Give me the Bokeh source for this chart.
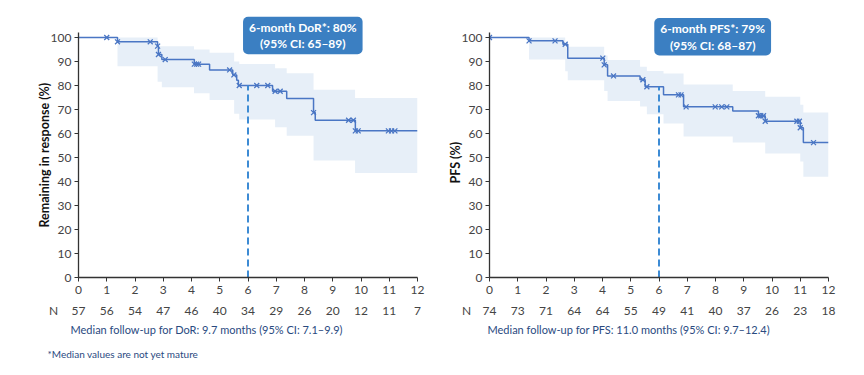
from bokeh.plotting import figure
from bokeh.layouts import column, row
from bokeh.models import FixedTicker, Label, Title, Range1d
from bokeh.core.properties import value
from bokeh.embed import file_html
from bokeh.resources import INLINE

FONT = "Lato"
CURVE = "#4a76c4"
BAND = "#e7eff8"
DASH = "#3d8bd4"
BOX = "#3b7fc2"
NAVY = "#2a4a7f"
TICKC = "#444444"

months = list(range(0, 13))
y_ticks = list(range(0, 101, 10))

# ---- DoR (left) ----
dor_times = [0, 1.38, 2.80, 2.83, 2.95, 4.10, 4.64, 5.46, 5.60, 5.66, 6.87, 7.37, 8.32, 8.38, 9.80, 12]
dor_surv = [100, 98.2, 96.4, 92.9, 90.8, 88.9, 86.5, 84.4, 82.2, 80.0, 77.6, 74.6, 68.7, 65.5, 61.1, 61.1]
dor_cens_t = [1.0, 1.38, 2.54, 2.80, 2.83, 3.07, 4.10, 4.18, 4.25, 5.35, 5.50, 5.69, 6.31, 6.70, 6.96, 7.14,
              8.32, 9.56, 9.73, 9.80, 9.90, 10.97, 11.08, 11.20]
dor_cens_s = [100, 98.2, 98.2, 96.4, 92.9, 90.8, 88.9, 88.9, 88.9, 86.5, 84.4, 80.0, 80.0, 80.0, 77.6, 77.6,
              68.7, 65.5, 65.5, 61.1, 61.1, 61.1, 61.1, 61.1]
dor_ci_t = [1.38, 2.80, 2.95, 4.09, 4.64, 5.51, 5.69, 6.96, 7.37, 8.32, 9.79, 12]
dor_ci_lo = [88.0, 81.6, 79.3, 76.8, 74.0, 68.2, 65.8, 62.6, 59.1, 48.7, 43.5, 43.5]
dor_ci_hi = [100, 96.4, 96.4, 95.0, 93.6, 90.0, 89.0, 87.2, 85.1, 78.2, 74.8, 74.8]
dor_n = [57, 56, 54, 47, 46, 40, 34, 29, 26, 20, 12, 11, 7]
dor_6m = 80

# ---- PFS (right) ----
pfs_times = [0, 1.40, 2.60, 2.77, 4.06, 4.18, 5.33, 5.51, 6.16, 6.87, 8.61, 9.52, 9.76, 11.00, 11.11, 12]
pfs_surv = [100, 98.6, 97.2, 91.4, 88.6, 84.0, 82.4, 79.5, 76.1, 71.1, 69.4, 67.4, 65.1, 62.4, 56.2, 56.2]
pfs_cens_t = [0, 1.40, 2.32, 2.68, 4.01, 4.06, 4.39, 5.43, 5.57, 6.69, 6.78, 6.96, 7.99, 8.22, 8.40,
              9.52, 9.60, 9.70, 9.76, 10.88, 10.97, 11.00, 11.47]
pfs_cens_s = [100, 98.6, 98.6, 97.2, 91.4, 88.6, 84.0, 82.4, 79.5, 76.1, 76.1, 71.1, 71.1, 71.1, 71.1,
              67.4, 67.4, 67.4, 65.1, 65.1, 65.1, 62.4, 56.2]
pfs_ci_t = [1.40, 2.68, 2.77, 4.06, 4.18, 5.33, 5.57, 6.16, 6.87, 8.61, 9.76, 11.00, 11.11, 12]
pfs_ci_lo = [90.8, 85.9, 82.2, 77.7, 73.5, 71.2, 68.0, 64.2, 58.7, 56.3, 51.7, 48.3, 42.0, 42.0]
pfs_ci_hi = [100, 96.1, 96.1, 92.5, 90.6, 87.8, 86.0, 85.0, 80.4, 77.7, 75.3, 72.0, 68.7, 68.7]
pfs_n = [74, 73, 71, 64, 64, 55, 49, 41, 40, 37, 26, 23, 18]
pfs_6m = 79.5

TOP_H = 301
FRAME_W = 339


def make_panel(width, bl, br, times, surv, ct, cs, cit, cilo, cihi, six, ylabel, ylab_off,
               box_text, box_x, box_y):
    p = figure(width=width, height=TOP_H, x_range=(0, 12), y_range=(0, 110),
               min_border_left=bl, min_border_right=br, min_border_top=13, min_border_bottom=24,
               output_backend="svg", toolbar_location=None)
    p.grid.visible = False
    p.outline_line_color = None
    for ax in (p.xaxis[0], p.yaxis[0]):
        ax.axis_line_color = "#333333"
        ax.axis_line_width = 1.3
        ax.major_tick_line_color = "#333333"
        ax.major_tick_in = 0
        ax.major_tick_out = 4
        ax.minor_tick_out = 0
        ax.minor_tick_line_color = None
        ax.major_label_text_font = FONT
        ax.major_label_text_font_size = "12px"
        ax.major_label_text_color = TICKC
    p.xaxis.ticker = FixedTicker(ticks=months)
    p.yaxis.ticker = FixedTicker(ticks=y_ticks)
    p.yaxis.bounds = (0, 102)
    p.xaxis.major_label_standoff = 4
    p.yaxis.major_label_standoff = 3

    p.varea_step(x=cit, y1=cilo, y2=cihi, step_mode="after", fill_color=BAND)
    p.step(x=times, y=surv, mode="after", line_color=CURVE, line_width=1.5)
    p.scatter(x=ct, y=cs, marker="x", size=7, line_color=CURVE, line_width=1.3)
    p.segment(x0=[6], y0=[0], x1=[6], y1=[six], line_color=DASH, line_width=2, line_dash="7 4")

    p.add_layout(Label(x=box_x, y=box_y, text=box_text, text_align="center", text_baseline="middle",
                       text_color="white", text_font=FONT, text_font_style="bold", text_font_size="12px",
                       text_line_height=1.1,
                       background_fill_color=BOX, border_radius=5,
                       padding=dict(top=3, right=6, bottom=3, left=6)))

    p.add_layout(Title(text=ylabel, align="left", offset=ylab_off, standoff=-9, text_font=FONT,
                       text_font_style="bold", text_font_size="12.5px", text_color="#111111"), "left")
    return p


p1 = make_panel(433, 78, 16, dor_times, dor_surv, dor_cens_t, dor_cens_s, dor_ci_t, dor_ci_lo, dor_ci_hi,
                dor_6m, "Remaining in response (%)", 50,
                "6-month DoR*: 80%\n(95% CI: 65\u201389)", 7.94, 100.8)
p2 = make_panel(431, 56, 36, pfs_times, pfs_surv, pfs_cens_t, pfs_cens_s, pfs_ci_t, pfs_ci_lo, pfs_ci_hi,
                pfs_6m, "PFS (%)", 94,
                "6-month PFS*: 79%\n(95% CI: 68\u201387)", 7.90, 100.3)

# ---- bottom strip: numbers at risk, follow-up notes ----
BOT_H = 71
W = 864
L0 = 78          # left frame start (px)
R0 = 489         # right frame start (px)
unit = FRAME_W / 12.0
t = figure(width=W, height=BOT_H, x_range=Range1d(-L0 / unit, (W - L0) / unit), y_range=Range1d(BOT_H, 0),
           min_border_left=0, min_border_right=0, min_border_top=0, min_border_bottom=0,
           x_axis_type=None, y_axis_type=None, output_backend="svg", toolbar_location=None)
t.grid.visible = False
t.outline_line_color = None
t.extra_x_ranges = {"right": Range1d(-R0 / unit, (W - R0) / unit)}

t.text(x=months, y=[9] * 13, text=[str(v) for v in dor_n], text_align="center", text_baseline="middle",
       text_font=value(FONT), text_font_size="12px", text_color=TICKC)
t.text(x=months, y=[9] * 13, text=[str(v) for v in pfs_n], text_align="center", text_baseline="middle",
       text_font=value(FONT), text_font_size="12px", text_color=TICKC, x_range_name="right")

def note(x, y, text, size="11px", color=NAVY, align="left"):
    t.add_layout(Label(x=x, y=BOT_H - y, x_units="screen", y_units="screen", text=text, text_align=align,
                       text_baseline="middle", text_font=FONT, text_font_size=size, text_color=color))

note(53, 9, "N", size="12px", color=TICKC, align="center")
note(466, 9, "N", size="12px", color=TICKC, align="center")
note(70, 28, "Median follow-up for DoR: 9.7 months (95% CI: 7.1\u20139.9)")
note(487, 28, "Median follow-up for PFS: 11.0 months (95% CI: 9.7\u201312.4)")
note(47, 52, "*Median values are not yet mature", size="10px")

layout = column(row(p1, p2, spacing=0), t, spacing=0)
open("out.html", "w").write(file_html(layout, INLINE))
